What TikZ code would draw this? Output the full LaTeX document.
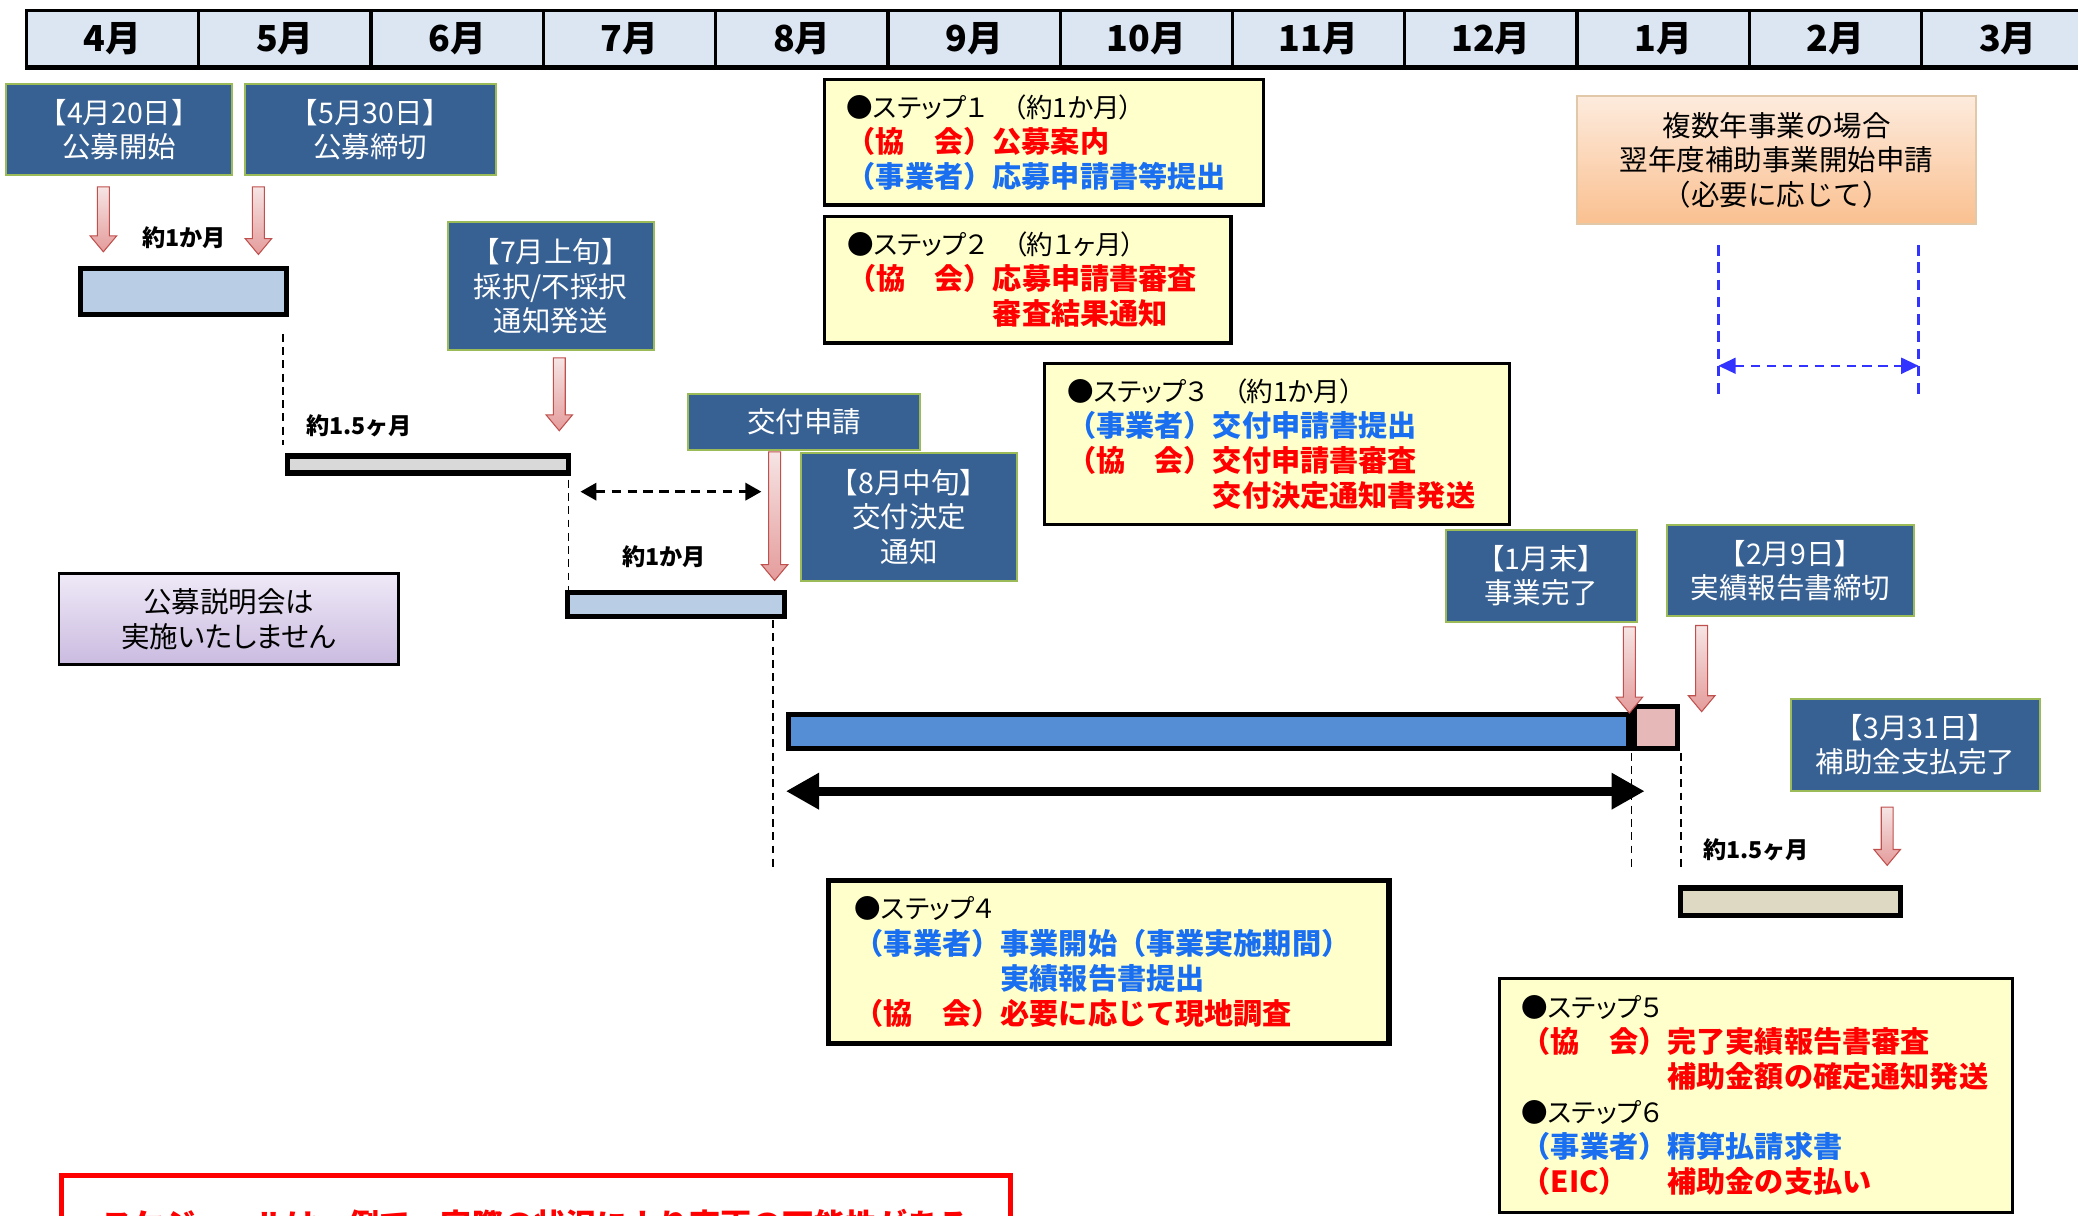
\documentclass[tikz,border=0pt]{standalone}
\usepackage{fontspec}
\setmainfont{Noto Sans CJK JP}
\newfontfamily\propfont{Noto Sans CJK JP}[CharacterWidth=AlternateProportional]
\usepackage{xcolor}
\usepackage{tikz}
\usetikzlibrary{arrows.meta,positioning,calc}

\definecolor{monthfill}{HTML}{DCE6F2}
\definecolor{msfill}{HTML}{386193}
\definecolor{msborder}{HTML}{9BBB59}
\definecolor{stepfill}{HTML}{FFFFCC}
\definecolor{jred}{HTML}{FF0000}
\definecolor{jblue}{HTML}{1A6FF0}
\definecolor{dashblue}{HTML}{3333FF}
\definecolor{arrowtop}{HTML}{F6E4E4}
\definecolor{arrowbot}{HTML}{E49C9B}
\definecolor{arrowline}{HTML}{C0504D}
\definecolor{orangetop}{HTML}{FDEBDD}
\definecolor{orangebot}{HTML}{FAC090}
\definecolor{orangeline}{HTML}{E0C8A8}
\definecolor{lilactop}{HTML}{EFE9F7}
\definecolor{lilacbot}{HTML}{CABBE0}
\definecolor{barlight}{HTML}{B9CDE5}
\definecolor{bargray}{HTML}{D9D9D9}
\definecolor{barblue}{HTML}{558ED5}
\definecolor{barpink}{HTML}{E6B9B8}
\definecolor{bartan}{HTML}{DDD9C3}

\begin{document}
\begin{tikzpicture}[x=1pt, y=-1pt,
        month/.style={rectangle, draw=black, line width=2.5pt, fill=monthfill, minimum width=130pt, minimum height=42pt, font=\bfseries\fontsize{27}{30}\selectfont},
        msbox/.style={rectangle, draw=msborder, line width=1.5pt, fill=msfill, text=white, align=center, inner sep=1pt, font=\fontsize{21.5}{26}\selectfont},
        stepbox/.style={rectangle, draw=black, line width=2.5pt, fill=stepfill, align=left, inner xsep=17pt, inner ysep=2pt, font=\fontsize{22}{26.5}\selectfont},
        bar/.style={rectangle, draw=black, line width=4pt, inner sep=0pt},
        lbl/.style={inner sep=0pt, font=\bfseries\fontsize{17.5}{20}\selectfont},
        guide/.style={line width=1.3pt, dash pattern=on 6pt off 4pt},
        span/.style={<->, >={Triangle[width=26pt,length=25pt]}, line width=7pt},
        gap/.style={<->, >={Triangle[width=13pt,length=12pt]}, line width=2pt, dash pattern=on 7pt off 5pt},
        bluegap/.style={<->, >={Triangle[width=12pt,length=13pt]}, draw=dashblue, line width=1.6pt, dash pattern=on 7pt off 5pt},
        blueguide/.style={draw=dashblue, line width=2pt, dash pattern=on 8pt off 5pt},
        pinkarrow/.style={draw=arrowline, line width=0.8pt, top color=arrowtop, bottom color=arrowbot,
            to path={let \p1=(\tikztostart), \p2=(\tikztotarget) in
                (\x1-4.5pt,\y1) -- (\x1+4.5pt,\y1) -- (\x1+4.5pt,\y2+12pt) -- (\x1+10pt,\y2+12pt)
                -- (\x1,\y2) -- (\x1-10pt,\y2+12pt) -- (\x1-4.5pt,\y2+12pt) -- cycle}}
    ]

    \path[use as bounding box] (0,0) rectangle (1568,917);
    \clip (0,0) rectangle (1568,917);
    \fill[white] (0,0) rectangle (1568,917);

    % Month header
    \node[month] (m4) at (85,29) {4月};
    \node[month] (m5) at (215,29) {5月};
    \node[month] (m6) at (345,29) {6月};
    \node[month] (m7) at (475,29) {7月};
    \node[month] (m8) at (605,29) {8月};
    \node[month] (m9) at (735,29) {9月};
    \node[month] (m10) at (865,29) {10月};
    \node[month] (m11) at (995,29) {11月};
    \node[month] (m12) at (1125,29) {12月};
    \node[month] (m1) at (1255,29) {1月};
    \node[month] (m2) at (1385,29) {2月};
    \node[month] (m3) at (1515,29) {3月};
    \draw[line width=3.5pt] (m4.south west) -- (m3.south east);

    % Milestones
    \node[msbox, minimum width=170.5pt, minimum height=68.5pt] (open) at (90,98) {【4月20日】\\公募開始};
    \node[msbox, minimum width=189.5pt, minimum height=68.5pt] (close) at (279.5,98) {【5月30日】\\公募締切};
    \node[msbox, minimum width=155.5pt, minimum height=96.5pt] (select) at (415.5,216) {【7月上旬】\\採択/不採択\\通知発送};
    \node[msbox, minimum width=175pt, minimum height=42pt] (apply) at (607,318.5) {交付申請};
    \node[msbox, minimum width=162.5pt, minimum height=96.5pt] (decide) at (686,390) {【8月中旬】\\交付決定\\通知};
    \node[msbox, minimum width=144pt, minimum height=69.5pt] (finish) at (1163,434.5) {【1月末】\\事業完了};
    \node[msbox, minimum width=186.5pt, minimum height=68.5pt] (report) at (1351,430.6) {【2月9日】\\実績報告書締切};
    \node[msbox, minimum width=187.5pt, minimum height=69pt] (paid) at (1445.4,562) {【3月31日】\\補助金支払完了};

    % Side notes
    \node[rectangle, draw=orangeline, line width=1.5pt, top color=orangetop, bottom color=orangebot, minimum width=301pt, minimum height=96pt, align=center, font=\fontsize{21.5}{26}\selectfont] (multi) at (1340.5,120.8) {複数年事業の場合\\翌年度補助事業開始申請\\（必要に応じて）};
    \node[rectangle, draw=black, line width=2pt, top color=lilactop, bottom color=lilacbot, minimum width=256pt, minimum height=69pt, align=center, font=\propfont\fontsize{21.5}{26.5}\selectfont] (nobrief) at (172.5,467) {公募説明会は\\実施いたしません};

    % Steps
    \node[stepbox, text width=297.5pt, minimum height=94.5pt] (step1) at (787.7,107.5)
        {{\propfont\fontsize{20}{26.5}\selectfont ●ステップ１　（約1か月）}\\
         {\color{jred}\bfseries （協　会）公募案内}\\
         {\color{jblue}\bfseries （事業者）応募申請書等提出}};
    \node[stepbox, text width=272.5pt, minimum height=95.5pt] (step2) at (775.5,211)
        {{\propfont\fontsize{20}{26.5}\selectfont ●ステップ２　（約１ヶ月）}\\
         {\color{jred}\bfseries （協　会）応募申請書審査}\\
         {\color{jred}\bfseries 　　　　　審査結果通知}};
    \node[stepbox, text width=317pt, minimum height=121.5pt] (step3) at (963.7,335)
        {{\propfont\fontsize{20}{26.5}\selectfont ●ステップ３　（約1か月）}\\
         {\color{jblue}\bfseries （事業者）交付申請書提出}\\
         {\color{jred}\bfseries （協　会）交付申請書審査}\\
         {\color{jred}\bfseries 　　　　　交付決定通知書発送}};
    \node[stepbox, line width=4pt, inner xsep=20pt, text width=383pt, minimum height=123pt] (step4) at (836.5,726)
        {{\propfont\fontsize{20}{26.5}\selectfont ●ステップ４}\\
         {\color{jblue}\bfseries （事業者）事業開始（事業実施期間）}\\
         {\color{jblue}\bfseries 　　　　　実績報告書提出}\\
         {\color{jred}\bfseries （協　会）必要に応じて現地調査}};
    \node[stepbox, text width=353.5pt, minimum height=176.5pt] (step5) at (1325,826.5)
        {{\propfont\fontsize{20}{26.5}\selectfont ●ステップ５}\\
         {\color{jred}\bfseries （協　会）完了実績報告書審査}\\
         {\color{jred}\bfseries 　　　　　補助金額の確定通知発送}\\
         {\propfont\fontsize{20}{26.5}\selectfont ●ステップ６}\\
         {\color{jblue}\bfseries （事業者）精算払請求書}\\
         {\color{jred}\bfseries \makebox[5em][l]{（EIC）}補助金の支払い}};

    % Bars
    \node[bar, fill=barlight, minimum width=155pt, minimum height=35pt] (bar1) at (138.5,220) {};
    \node[bar, fill=bargray, minimum width=212pt, minimum height=13pt] (bar2) at (323,350.5) {};
    \node[bar, fill=barlight, minimum width=164pt, minimum height=18pt] (bar3) at (510,456) {};
    \node[bar, fill=barblue, minimum width=634pt, minimum height=26pt] (bar4) at (912,552) {};
    \node[bar, fill=barpink, minimum width=33pt, minimum height=32pt] (bar5) at (1249.5,549) {};
    \node[bar, fill=bartan, minimum width=166pt, minimum height=21pt] (bar6) at (1351,680.5) {};

    % Durations
    \node[lbl] (d1) at (139,179) {約1か月};
    \node[lbl] (d2) at (271,321) {約1.5ヶ月};
    \node[lbl] (d3) at (501,420) {約1か月};
    \node[lbl] (d4) at (1325,641) {約1.5ヶ月};

    % Guide lines
    \coordinate (g1a) at (213.5,252); \coordinate (g1b) at (213.5,336);
    \coordinate (g2a) at (429,362);   \coordinate (g2b) at (429,445);
    \coordinate (g3a) at (583.5,468); \coordinate (g3b) at (583.5,656);
    \coordinate (g4a) at (1231,568);  \coordinate (g4b) at (1231,656);
    \coordinate (g5a) at (1268.5,568); \coordinate (g5b) at (1268.5,656);
    \draw[guide] (g1a) -- (g1b);
    \draw[guide] (g2a) -- (g2b);
    \draw[guide] (g3a) -- (g3b);
    \draw[guide] (g4a) -- (g4b);
    \draw[guide] (g5a) -- (g5b);

    % Spans
    \coordinate (wL) at (438,371);  \coordinate (wR) at (574.5,371);
    \draw[gap] (wL) -- (wR);
    \coordinate (pL) at (593,597);  \coordinate (pR) at (1241,597);
    \draw[span] (pL) -- (pR);
    \coordinate (b1a) at (1296.7,185); \coordinate (b1b) at (1296.7,297);
    \coordinate (b2a) at (1447.6,185); \coordinate (b2b) at (1447.6,297);
    \draw[blueguide] (b1a) -- (b1b);
    \draw[blueguide] (b2a) -- (b2b);
    \coordinate (nL) at (1296.7,276); \coordinate (nR) at (1447.6,276);
    \draw[bluegap] (nL) -- (nR);

    % Pink arrows
    \coordinate (a1s) at (78,141);     \coordinate (a1e) at (78,190);
    \coordinate (a2s) at (195,141);    \coordinate (a2e) at (195,192);
    \coordinate (a3s) at (422,270);    \coordinate (a3e) at (422,325);
    \coordinate (a4s) at (584.5,341);  \coordinate (a4e) at (584.5,438);
    \coordinate (a5s) at (1229.5,473); \coordinate (a5e) at (1229.5,538);
    \coordinate (a6s) at (1284,472);   \coordinate (a6e) at (1284,537);
    \coordinate (a7s) at (1424,609);   \coordinate (a7e) at (1424,653);
    \draw[pinkarrow] (a1s) to (a1e);
    \draw[pinkarrow] (a2s) to (a2e);
    \draw[pinkarrow] (a3s) to (a3e);
    \draw[pinkarrow] (a4s) to (a4e);
    \draw[pinkarrow] (a5s) to (a5e);
    \draw[pinkarrow] (a6s) to (a6e);
    \draw[pinkarrow] (a7s) to (a7e);

    % Note at the bottom
    \node[rectangle, draw=jred, line width=4pt, minimum width=716pt, minimum height=73pt, text=jred, font=\bfseries\fontsize{23.5}{28}\selectfont] (note) at (404.3,923.5) {スケジュールは一例で、実際の状況により変更の可能性がある};

\end{tikzpicture}
\end{document}
